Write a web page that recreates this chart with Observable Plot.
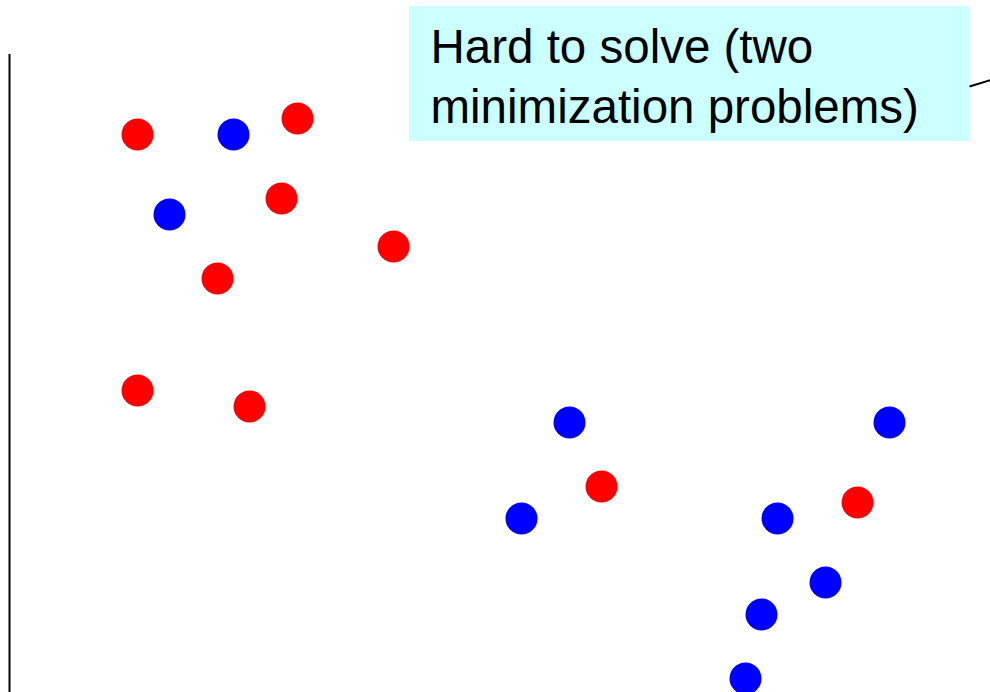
<!DOCTYPE html>
<html>
<head>
<meta charset="utf-8">
<script src="https://cdn.jsdelivr.net/npm/d3@7"></script>
<script src="https://cdn.jsdelivr.net/npm/@observablehq/plot@0.6"></script>
<style>
  html, body { margin: 0; padding: 0; background: #fff; }
  #chart svg { display: block; }
</style>
</head>
<body>
<div id="chart"></div>
<script>
// Point data (x to the right, y downward, in the picture's units)
const redX  = [137, 297, 281, 393, 217, 137, 249, 601, 857];
const redY  = [134, 118, 198, 246, 278, 390, 406, 486, 502];
const blueX = [233, 169, 569, 521, 889, 777, 825, 761, 745];
const blueY = [134, 214, 422, 518, 422, 518, 582, 614, 678];

// Annotation
const noteLines = ["Hard to solve (two", "minimization problems)"];
const noteBaselines = [62, 122];
const noteBox = {x1: 409, x2: 969, y1: 6, y2: 141};
const noteLeader = {x1: 969, y1: 86, x2: 992, y2: 79};
const noteTextX = 430;

// Vertical axis line
const axisX = 9;
const axisTop = 54;
const axisBottom = 692;

const points = [
  ...redX.map((x, i) => ({x, y: redY[i], cls: "red"})),
  ...blueX.map((x, i) => ({x, y: blueY[i], cls: "blue"}))
];

const chart = Plot.plot({
  width: 990,
  height: 692,
  margin: 0,
  style: {background: "#fff", overflow: "visible"},
  x: {domain: [0, 990], axis: null},
  y: {domain: [0, 692], reverse: true, axis: null},
  color: {domain: ["red", "blue"], range: ["#ff0000", "#0000ff"]},
  marks: [
    Plot.ruleX([axisX], {y1: axisTop, y2: axisBottom, stroke: "#000", strokeWidth: 2}),
    Plot.rect([noteBox], {x1: "x1", x2: "x2", y1: "y1", y2: "y2", fill: "#ccffff"}),
    Plot.link([noteLeader], {x1: "x1", y1: "y1", x2: "x2", y2: "y2", stroke: "#000", strokeWidth: 2}),
    Plot.text(noteLines, {
      x: () => noteTextX,
      y: (d, i) => noteBaselines[i],
      text: d => d,
      textAnchor: "start",
      lineAnchor: "bottom",
      fontSize: 47.5,
      fontFamily: "Liberation Sans, Arial, sans-serif",
      fill: "#000"
    }),
    Plot.dot(points, {x: "x", y: "y", r: 16, fill: "cls", stroke: null})
  ]
});

document.getElementById("chart").appendChild(chart);
</script>
</body>
</html>
